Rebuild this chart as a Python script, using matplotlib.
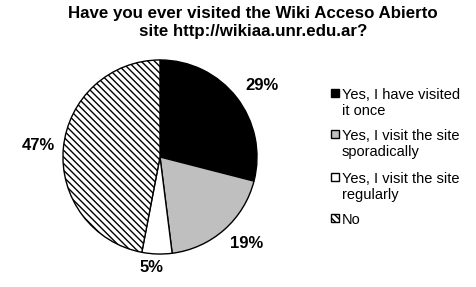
import matplotlib.pyplot as plt
from matplotlib.patches import Rectangle

plt.rcParams['font.family'] = ['Liberation Sans', 'DejaVu Sans']
plt.rcParams['hatch.linewidth'] = 1.0

labels = ["Yes, I have visited\nit once", "Yes, I visit the site\nsporadically",
          "Yes, I visit the site\nregularly", "No"]
values = [29, 19, 5, 47]
colors = ["black", "#bfbfbf", "white", "white"]
hatches = [None, None, None, "\\\\\\\\\\"]

W, H = 476, 287
fig = plt.figure(figsize=(W / 100, H / 100), dpi=100)
# pie axes: center ~ (160, 157) px, radius ~98 px
ax = fig.add_axes([(160 - 98) / W, 1 - (157 + 98) / H, 196 / W, 196 / H])

wedges, texts = ax.pie(values, colors=colors, startangle=90, counterclock=False,
                       wedgeprops=dict(edgecolor="black", linewidth=1.0))
for w, h in zip(wedges, hatches):
    if h:
        w.set_hatch(h)
ax.set_xlim(-1.01, 1.01)
ax.set_ylim(-1.01, 1.01)
ax.set_aspect("equal")

pct_pos = [(262, 86), (247, 243), (152, 268), (38, 145)]
for v, (x, y) in zip(values, pct_pos):
    fig.text(x / W, 1 - y / H, f"{v}%", fontsize=12, fontweight="bold",
             ha="center", va="center")

fig.text(253 / W, 1 - 6 / H, "Have you ever visited the Wiki Acceso Abierto\nsite http://wikiaa.unr.edu.ar?",
         ha="center", va="top", fontsize=12.2, fontweight="bold", linespacing=1.25)

# legend drawn by hand so the key sits on the first text line
leg_rows = [93, 134, 177, 218]
for lab, col, h, y in zip(labels, colors, hatches, leg_rows):
    fig.add_artist(Rectangle((331 / W, 1 - (y + 4) / H), 8 / W, 8 / H, transform=fig.transFigure,
                             facecolor=col, edgecolor="black", linewidth=1.0, hatch=h))
    fig.text(342 / W, 1 - (y - 5) / H, lab, fontsize=10.5, ha="left", va="top",
             linespacing=1.2)

fig.savefig("out.png", dpi=100)
